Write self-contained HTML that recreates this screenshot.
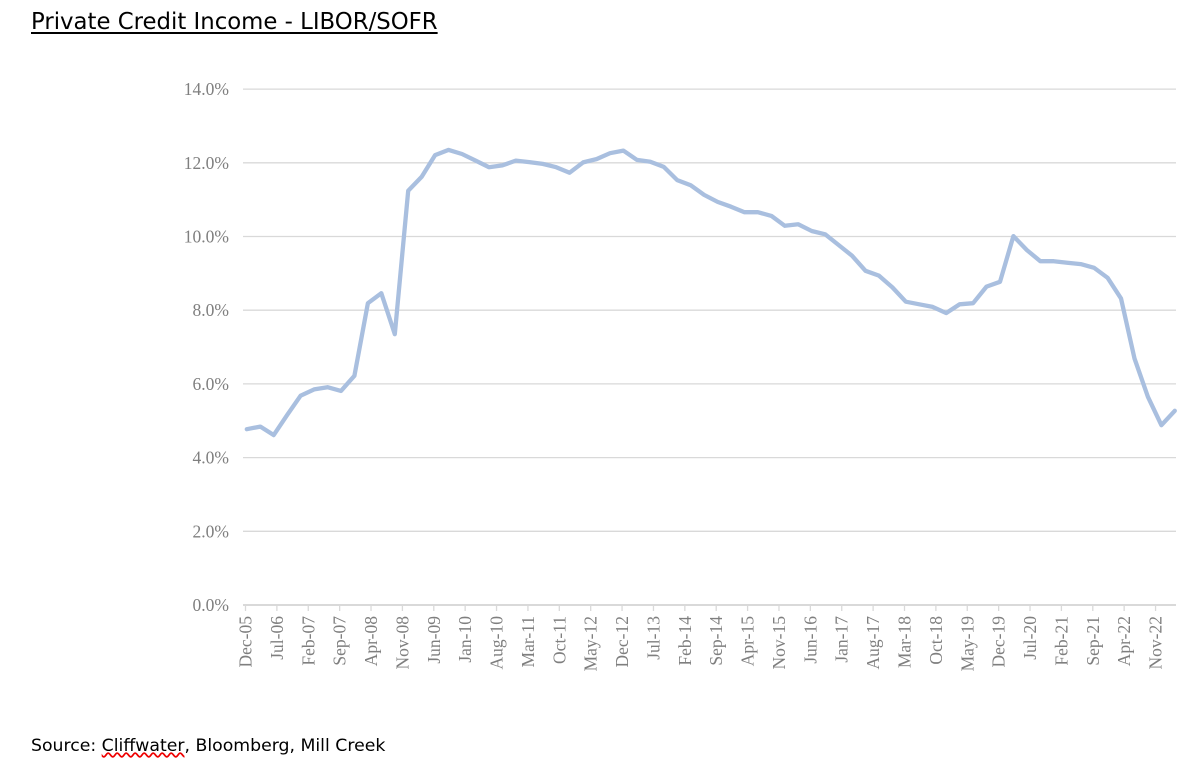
<!DOCTYPE html>
<html><head><meta charset="utf-8"><style>
body{margin:0;background:#fff;width:1200px;height:781px;overflow:hidden;position:relative;font-family:"DejaVu Sans",sans-serif}
#title{position:absolute;left:31px;top:9px;font-size:22.8px;color:#000;text-decoration:underline;text-underline-offset:3px;white-space:nowrap;letter-spacing:0}
#source{position:absolute;left:31px;top:736px;font-size:17.3px;color:#000;white-space:nowrap;letter-spacing:0}
.wavy{text-decoration:underline wavy #e00;text-decoration-skip-ink:none}
svg{position:absolute;left:0;top:0}
</style></head><body>
<div id="title">Private Credit Income - LIBOR/SOFR</div>
<div id="source">Source: <span class="wavy">Cliffwater</span>, Bloomberg, Mill Creek</div>
<svg id="chart" width="1200" height="781"></svg>
<script>
const yTicks=[0,2,4,6,8,10,12,14];
const xTickLabels=["Dec-05","Jul-06","Feb-07","Sep-07","Apr-08","Nov-08","Jun-09","Jan-10","Aug-10","Mar-11","Oct-11","May-12","Dec-12","Jul-13","Feb-14","Sep-14","Apr-15","Nov-15","Jun-16","Jan-17","Aug-17","Mar-18","Oct-18","May-19","Dec-19","Jul-20","Feb-21","Sep-21","Apr-22","Nov-22"];
const rates=[4.77,4.84,4.61,5.16,5.68,5.85,5.91,5.81,6.22,8.19,8.46,7.35,11.24,11.62,12.21,12.35,12.24,12.06,11.88,11.93,12.06,12.02,11.97,11.88,11.73,12.01,12.10,12.26,12.33,12.08,12.03,11.89,11.53,11.39,11.13,10.94,10.81,10.66,10.66,10.56,10.29,10.33,10.15,10.06,9.77,9.48,9.07,8.94,8.62,8.23,8.16,8.09,7.92,8.16,8.19,8.64,8.77,10.01,9.63,9.33,9.33,9.29,9.25,9.15,8.88,8.32,6.69,5.65,4.88,5.27];
const NS="http://www.w3.org/2000/svg";
const svg=document.getElementById('chart');
const X0=245.5,PX_PER_MONTH=4.483,Y0=605,PX_PER_PCT=36.85;
const xMonth=m=>X0+m*PX_PER_MONTH;
const yScale=v=>Y0-v*PX_PER_PCT;
function mk(tag,attrs){const e=document.createElementNS(NS,tag);for(const k in attrs)e.setAttribute(k,attrs[k]);svg.appendChild(e);return e;}
const serif='"Liberation Serif",serif';
yTicks.forEach(v=>{
  const y=yScale(v);
  const g=mk('line',{x1:243,x2:1176,y1:y,y2:y,stroke:'#d9d9d9','stroke-width':v===0?2:1.3});
  
  
  const t=mk('text',{x:229,y:y+6,'text-anchor':'end','font-family':serif,'font-size':17.5,fill:'#7f7f7f'});
  t.textContent=v.toFixed(1)+'%';
  
  
});
xTickLabels.forEach((lab,i)=>{
  const x=xMonth(i*7);
  const tk=mk('line',{x1:x,x2:x,y1:605,y2:611,stroke:'#d9d9d9','stroke-width':1.3});
  
  
  const t=mk('text',{transform:`translate(${x+6},616) rotate(-90)`,'text-anchor':'end','font-family':serif,'font-size':17.5,fill:'#7f7f7f'});
  t.textContent=lab;
  
  
});
const pts=rates.map((v,i)=>xMonth(i*3+0.3).toFixed(1)+','+yScale(v).toFixed(1)).join(' ');
const pl=mk('polyline',{points:pts,fill:'none',stroke:'#a9bfdf','stroke-width':4.3,'stroke-linejoin':'round','stroke-linecap':'round'});


</script>
</body></html>
